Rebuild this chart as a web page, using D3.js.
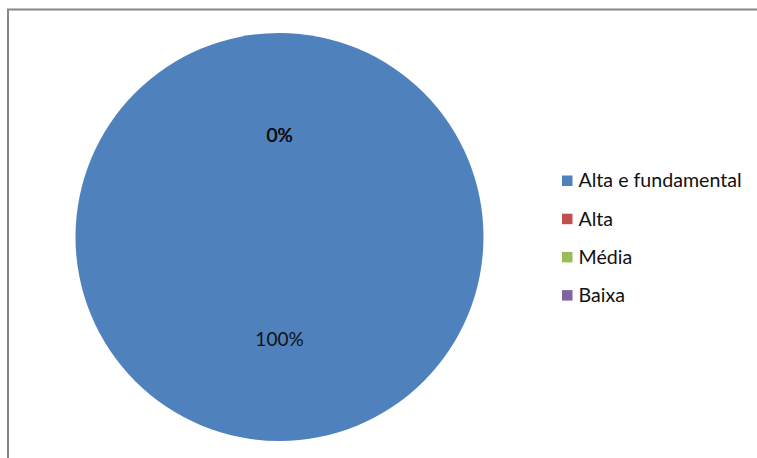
<!DOCTYPE html>
<html>
<head>
<meta charset="utf-8">
<script src="https://cdn.jsdelivr.net/npm/d3@7"></script>
<style>
  html, body { margin: 0; padding: 0; background: #fff; }
  svg { display: block; }
  text { font-family: Lato, "Open Sans", sans-serif; }
</style>
</head>
<body>
<script>
// Priority categories and their shares
const categories = ["Alta e fundamental", "Alta", "Média", "Baixa"];
const values = [100, 0, 0, 0];
const colors = ["#4F81BD", "#C0504D", "#9BBB59", "#8064A2"];

const width = 757, height = 458;
const svg = d3.select("body").append("svg")
  .attr("width", width).attr("height", height);

// Chart frame (left and top edges visible)
svg.append("path")
  .attr("d", "M8,458 V9.5 H757")
  .attr("fill", "none")
  .attr("stroke", "#868686")
  .attr("stroke-width", 2);

const cx = 279.5, cy = 237, r = 204;
const pie = d3.pie().sort(null).value(d => d);
const arcs = pie(values);
const arc = d3.arc().innerRadius(0).outerRadius(r);
const labelArc = d3.arc().innerRadius(r / 2).outerRadius(r / 2);
const total = d3.sum(values);

const g = svg.append("g").attr("transform", `translate(${cx},${cy})`);
g.selectAll("path.slice").data(arcs).join("path")
  .attr("class", "slice")
  .attr("d", arc)
  .attr("fill", (d, i) => colors[i]);

g.selectAll("text.lbl").data(arcs).join("text")
  .attr("class", "lbl")
  .attr("transform", d => `translate(${labelArc.centroid(d)})`)
  .attr("text-anchor", "middle")
  .attr("dy", "0.35em")
  .attr("font-size", 19)
  .attr("fill", "#111")
  .text(d => d3.format(".0%")(d.value / total));

// Legend
const legend = svg.append("g").attr("transform", "translate(562,180.5)");
const rowStep = 38.2;
const items = legend.selectAll("g").data(categories).join("g")
  .attr("transform", (d, i) => `translate(0,${i * rowStep})`);
items.append("rect")
  .attr("x", 0).attr("y", -5)
  .attr("width", 10.5).attr("height", 10.5)
  .attr("fill", (d, i) => colors[i]);
items.append("text")
  .attr("x", 16.5).attr("dy", "0.35em")
  .attr("font-size", 19.6)
  .attr("fill", "#111")
  .text(d => d);
</script>
</body>
</html>
